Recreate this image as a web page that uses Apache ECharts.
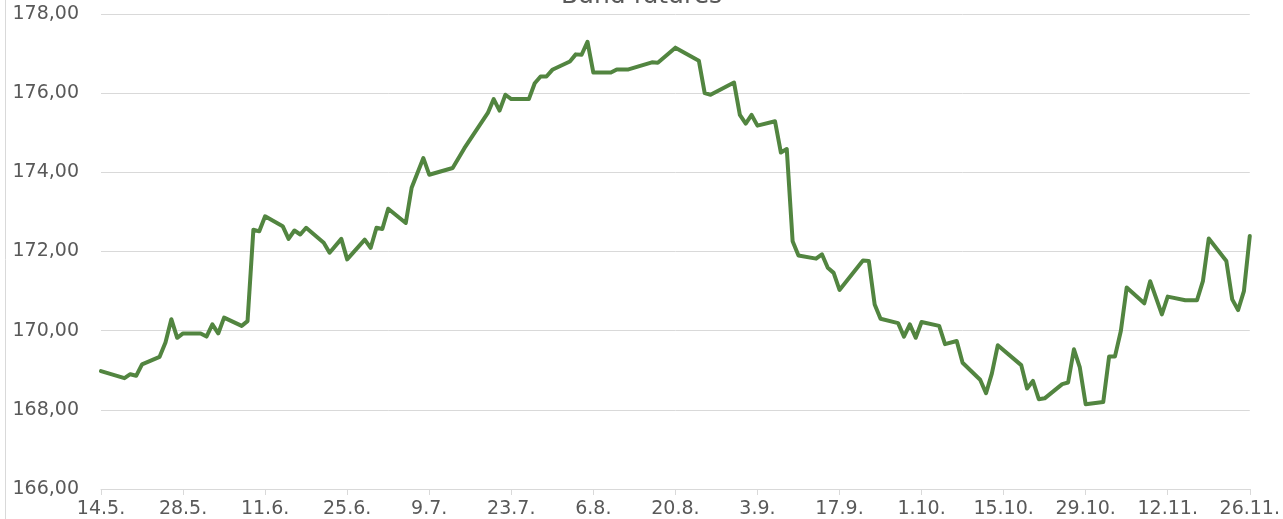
<!DOCTYPE html>
<html>
<head>
    <meta charset="utf-8" />
    <script type="text/javascript" src="https://cdn.jsdelivr.net/npm/echarts@6/dist/echarts.min.js"></script>
    <title>Bund futures</title>
    <style>
        html, body { margin: 0; padding: 0; background: #fff; }
        #main { width: 1283px; height: 519px; }
    </style>
</head>
<body>
    <div id="main"></div>
    <script type="text/javascript">
    // trading days (only the visible corners of the line)
    var dates = [
        '2021-05-14', '2021-05-18', '2021-05-19', '2021-05-20', '2021-05-21', '2021-05-24', '2021-05-25', '2021-05-26', '2021-05-27', '2021-05-28',
        '2021-05-31', '2021-06-01', '2021-06-02', '2021-06-03', '2021-06-04', '2021-06-07', '2021-06-08', '2021-06-09', '2021-06-10', '2021-06-11',
        '2021-06-14', '2021-06-15', '2021-06-16', '2021-06-17', '2021-06-18', '2021-06-21', '2021-06-22', '2021-06-24', '2021-06-25', '2021-06-28',
        '2021-06-29', '2021-06-30', '2021-07-01', '2021-07-02', '2021-07-05', '2021-07-06', '2021-07-08', '2021-07-09', '2021-07-13', '2021-07-15',
        '2021-07-19', '2021-07-20', '2021-07-21', '2021-07-22', '2021-07-23', '2021-07-26', '2021-07-27', '2021-07-28', '2021-07-29', '2021-07-30',
        '2021-08-02', '2021-08-03', '2021-08-04', '2021-08-05', '2021-08-06', '2021-08-09', '2021-08-10', '2021-08-12', '2021-08-16', '2021-08-17',
        '2021-08-20', '2021-08-24', '2021-08-25', '2021-08-26', '2021-08-30', '2021-08-31', '2021-09-01', '2021-09-02', '2021-09-03', '2021-09-06',
        '2021-09-07', '2021-09-08', '2021-09-09', '2021-09-10', '2021-09-13', '2021-09-14', '2021-09-15', '2021-09-16', '2021-09-17', '2021-09-21',
        '2021-09-22', '2021-09-23', '2021-09-24', '2021-09-27', '2021-09-28', '2021-09-29', '2021-09-30', '2021-10-01', '2021-10-04', '2021-10-05',
        '2021-10-07', '2021-10-08', '2021-10-11', '2021-10-12', '2021-10-13', '2021-10-14', '2021-10-18', '2021-10-19', '2021-10-20', '2021-10-21',
        '2021-10-22', '2021-10-25', '2021-10-26', '2021-10-27', '2021-10-28', '2021-10-29', '2021-11-01', '2021-11-02', '2021-11-03', '2021-11-04',
        '2021-11-05', '2021-11-08', '2021-11-09', '2021-11-11', '2021-11-12', '2021-11-15', '2021-11-17', '2021-11-18', '2021-11-19', '2021-11-22',
        '2021-11-23', '2021-11-24', '2021-11-25', '2021-11-26'
    ];
    var prices = [
        168.98, 168.80, 168.90, 168.86, 169.15, 169.34, 169.70, 170.29, 169.82, 169.93,
        169.93, 169.85, 170.16, 169.93, 170.33, 170.12, 170.24, 172.55, 172.51, 172.89,
        172.64, 172.32, 172.53, 172.43, 172.60, 172.22, 171.97, 172.32, 171.80, 172.30,
        172.09, 172.60, 172.57, 173.08, 172.72, 173.61, 174.36, 173.94, 174.11, 174.61,
        175.50, 175.85, 175.56, 175.96, 175.85, 175.85, 176.25, 176.42, 176.42, 176.59,
        176.80, 176.98, 176.97, 177.30, 176.52, 176.52, 176.60, 176.60, 176.78, 176.77,
        177.15, 176.82, 176.00, 175.96, 176.27, 175.45, 175.23, 175.45, 175.18, 175.29,
        174.50, 174.59, 172.26, 171.90, 171.82, 171.93, 171.59, 171.46, 171.03, 171.77,
        171.76, 170.66, 170.30, 170.19, 169.85, 170.16, 169.82, 170.22, 170.12, 169.66,
        169.74, 169.19, 168.76, 168.42, 168.92, 169.63, 169.13, 168.54, 168.73, 168.27,
        168.29, 168.65, 168.69, 169.53, 169.07, 168.14, 168.20, 169.35, 169.35, 169.99,
        171.09, 170.69, 171.25, 170.41, 170.86, 170.77, 170.77, 171.25, 172.33, 171.76,
        170.79, 170.52, 171.00, 172.39
    ];
    var startDate = '2021-05-14';
    var endDate = '2021-11-26';
    var tickDays = 14; // one axis label every two weeks

    var DAY = 24 * 3600 * 1000;
    function toMs(s) {
        var p = s.split('-');
        return Date.UTC(+p[0], +p[1] - 1, +p[2]);
    }
    var t0 = toMs(startDate);
    var span = Math.round((toMs(endDate) - t0) / DAY);

    var seriesData = [];
    for (var i = 0; i < dates.length; i++) {
        seriesData.push([Math.round((toMs(dates[i]) - t0) / DAY), prices[i]]);
    }

    var gray = '#595959';
    var lineGray = '#d9d9d9';
    var font = 'DejaVu Sans';

    var myChart = echarts.init(document.getElementById('main'));
    var option = {
        animation: false,
        title: {
            text: 'Bund futures',
            left: 'center',
            top: -21,
            textStyle: { color: gray, fontSize: 25, fontWeight: 'normal', fontFamily: font }
        },
        grid: { left: 101, right: 33, top: 14, bottom: 29, containLabel: false },
        xAxis: {
            type: 'value',
            min: 0,
            max: span,
            interval: tickDays,
            axisLine: { show: true, lineStyle: { color: lineGray, width: 1 } },
            axisTick: { show: true, length: 6, lineStyle: { color: lineGray } },
            splitLine: { show: false },
            axisLabel: {
                color: gray,
                fontSize: 19,
                fontFamily: font,
                margin: 11,
                showMinLabel: true,
                showMaxLabel: true,
                formatter: function (v) {
                    var d = new Date(t0 + v * DAY);
                    return d.getUTCDate() + '.' + (d.getUTCMonth() + 1) + '.';
                }
            }
        },
        yAxis: {
            type: 'value',
            min: 166,
            max: 178,
            interval: 2,
            axisLine: { show: false },
            axisTick: { show: false },
            splitLine: { lineStyle: { color: lineGray, width: 1 } },
            axisLabel: {
                color: gray,
                fontSize: 19,
                fontFamily: font,
                margin: 22,
                formatter: function (v) {
                    return v.toFixed(2).replace('.', ',');
                }
            }
        },
        graphic: [{
            type: 'line',
            shape: { x1: 5.5, y1: 0, x2: 5.5, y2: 519 },
            style: { stroke: lineGray, lineWidth: 1 }
        }],
        series: [{
            name: 'Bund futures',
            type: 'line',
            data: seriesData,
            showSymbol: false,
            symbol: 'none',
            lineStyle: { color: '#528540', width: 4, join: 'round', cap: 'round' }
        }]
    };
    myChart.setOption(option);
    </script>
</body>
</html>
